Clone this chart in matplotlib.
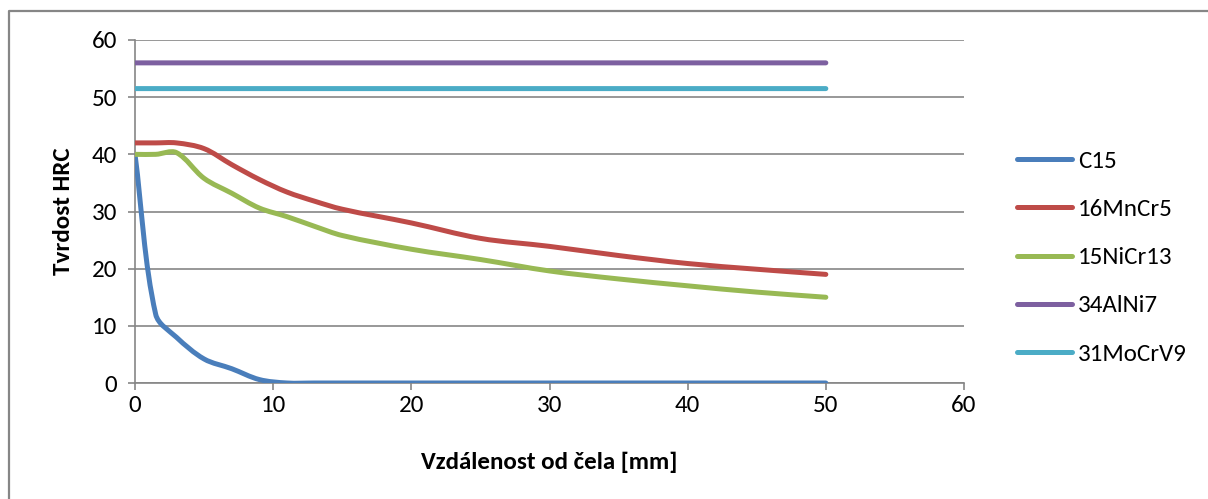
#!/usr/bin/env python3
"""Jominy hardness curves, Excel-like look."""
import matplotlib
matplotlib.use("Agg")
import matplotlib.pyplot as plt
from matplotlib.lines import Line2D
from matplotlib.patches import PathPatch
from matplotlib.path import Path

# Jominy distances [mm]
dist = [0, 1.5, 3, 5, 7, 9, 11, 13, 15, 20, 25, 30, 35, 40, 45, 50]
c15 = [40, 12, 8, 4.2, 2.5, 0.6, 0, 0, 0, 0, 0, 0, 0, 0, 0, 0]
mncr = [42, 42, 42, 41, 38.2, 35.6, 33.4, 31.8, 30.4, 28.0, 25.3, 23.9, 22.3, 20.9, 19.9, 19.0]
nicr = [40, 40, 40.3, 35.8, 33.2, 30.6, 29.1, 27.4, 25.8, 23.4, 21.6, 19.6, 18.2, 17.0, 15.9, 15.0]
alni_x = [0, 50]
alni = [56, 56]
mocrv_x = [0, 50]
mocrv = [51.5, 51.5]

labels = ["C15", "16MnCr5", "15NiCr13", "34AlNi7", "31MoCrV9"]
colors = ["#4A7EBB", "#BE4B48", "#98B954", "#7D60A0", "#4BACC6"]
GRID = "#868686"
FS = 18
LW = 3.6
SX, SY = 13.82, 5.72  # px per data unit, used only to weight the smoothing

plt.rcParams["font.family"] = ["Carlito", "Lato", "DejaVu Sans"]


def smooth(xs, ys):
    # Excel-style smoothed line: length-weighted cubic Bezier through the points
    pts = list(zip(xs, ys))
    n = len(pts)

    def dist_px(a, b):
        return (((b[0] - a[0]) * SX) ** 2 + ((b[1] - a[1]) * SY) ** 2) ** 0.5

    verts, codes = [pts[0]], [Path.MOVETO]
    for i in range(n - 1):
        p0 = pts[i - 1] if i > 0 else pts[i]
        p1, p2 = pts[i], pts[i + 1]
        p3 = pts[i + 2] if i + 2 < n else pts[i + 1]
        d1, d2, d3 = dist_px(p0, p1), dist_px(p1, p2), dist_px(p2, p3)
        k1 = d2 / 3 / (d1 + d2) if d1 + d2 else 0
        k2 = d2 / 3 / (d2 + d3) if d2 + d3 else 0
        c1 = (p1[0] + (p2[0] - p0[0]) * k1, p1[1] + (p2[1] - p0[1]) * k1)
        c2 = (p2[0] - (p3[0] - p1[0]) * k2, p2[1] - (p3[1] - p1[1]) * k2)
        verts += [c1, c2, p2]
        codes += [Path.CURVE4] * 3
    return Path(verts, codes)


fig = plt.figure(figsize=(12.08, 4.99), dpi=100)
# chart-area border (top and left edges visible)
fig.add_artist(Line2D([9 / 1208, 9 / 1208, 1], [0, 1 - 10.5 / 499, 1 - 10.5 / 499],
                      transform=fig.transFigure, color=GRID, lw=1.6))
ax = fig.add_axes([135 / 1208, 1 - 383 / 499, 829 / 1208, 343 / 499])

series = [(dist, c15), (dist, mncr), (dist, nicr), (alni_x, alni), (mocrv_x, mocrv)]
handles = []
for (xs, ys), lab, col in zip(series, labels, colors):
    ax.add_patch(PathPatch(smooth(xs, ys), fill=False, edgecolor=col, lw=LW,
                           capstyle="round", joinstyle="round", zorder=3))
    handles.append(Line2D([], [], color=col, lw=LW, solid_capstyle="round", label=lab))

ax.set_xlim(0, 60)
ax.set_ylim(0, 60)
ax.set_xticks(range(0, 61, 10))
ax.set_yticks(range(0, 61, 10))
ax.grid(True, axis="y", color=GRID, lw=1.2)
ax.set_axisbelow(True)
for s in ["top", "right"]:
    ax.spines[s].set_visible(False)
for s in ["left", "bottom"]:
    ax.spines[s].set_color(GRID)
    ax.spines[s].set_linewidth(1.2)
ax.tick_params(colors=GRID, labelcolor="black", labelsize=FS, length=5, width=1.2)
ax.tick_params(axis="x", pad=4)
ax.tick_params(axis="y", pad=8)

ax.set_xlabel("Vzdálenost od čela [mm]", fontsize=FS, fontweight="bold", labelpad=25)
ax.set_ylabel("Tvrdost HRC", fontsize=FS, fontweight="bold", labelpad=13)

fig.legend(handles=handles, loc="center left", bbox_to_anchor=(1017 / 1208, 1 - 257.5 / 499),
           frameon=False, fontsize=FS, handlelength=2.2, handletextpad=0.25,
           labelspacing=1.07, borderpad=0, borderaxespad=0)

fig.savefig("out.png", dpi=100, facecolor="white")
